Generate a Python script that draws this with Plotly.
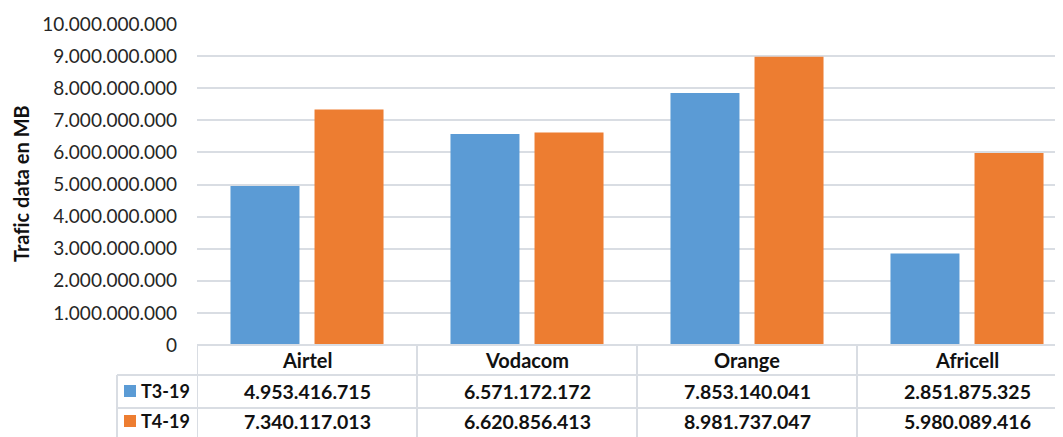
import plotly.graph_objects as go

categories = ["Airtel", "Vodacom", "Orange", "Africell"]
series_names = ["T3-19", "T4-19"]
t3_19 = [4953416715, 6571172172, 7853140041, 2851875325]
t4_19 = [7340117013, 6620856413, 8981737047, 5980089416]
y_ticks = [0, 1e9, 2e9, 3e9, 4e9, 5e9, 6e9, 7e9, 8e9, 9e9, 10e9]
y_title = "Traf\u200cic data en MB"

colors = ["#5b9bd5", "#ed7d31"]
FONT = "Lato"
OFF = 8  # page body margin
W, H = 1063 - OFF, 437 - OFF
# reference pixel geometry
REF_L, REF_T, REF_BOT = 197, 24, 345
L, T = REF_L - OFF, REF_T - OFF
B = H - (REF_BOT - OFF)
PH = H - T - B
PW = W - L


def fmt(v):
    return f"{int(v):,}".replace(",", ".")


def py(p):
    return (REF_BOT - p) / PH


def px(p):
    return (p - REF_L) / PW


fig = go.Figure()
for name, vals, c in zip(series_names, [t3_19, t4_19], colors):
    fig.add_bar(x=list(range(len(categories))), y=vals, name=name,
                marker=dict(color=c, line=dict(width=0)), showlegend=False)

grid = "#d9dde3"
shapes = []
shapes.append(dict(type="line", xref="paper", yref="paper", x0=0, x1=1.2, y0=py(345), y1=py(345),
                   line=dict(color=grid, width=2)))
for yy in [375, 408]:
    shapes.append(dict(type="line", xref="paper", yref="paper", x0=px(117), x1=1.2, y0=py(yy), y1=py(yy),
                       line=dict(color=grid, width=2)))
shapes.append(dict(type="line", xref="paper", yref="paper", x0=px(117), x1=px(117), y0=py(375), y1=py(440),
                   line=dict(color=grid, width=2)))
for i in range(len(categories)):
    xv = i - 0.5
    shapes.append(dict(type="line", xref="x", yref="paper", x0=xv, x1=xv, y0=py(345), y1=py(440),
                       line=dict(color=grid, width=2)))

TXT = "#111"
annotations = []
for i, cat in enumerate(categories):
    annotations.append(dict(x=i, y=py(360), xref="x", yref="paper", text=f"<b>{cat}</b>",
                            showarrow=False, font=dict(size=20, color=TXT), xanchor="center", yanchor="middle"))
row_y = [391, 421]
for r, (name, vals, c) in enumerate(zip(series_names, [t3_19, t4_19], colors)):
    yy = row_y[r]
    for i, v in enumerate(vals):
        annotations.append(dict(x=i, y=py(yy), xref="x", yref="paper", text=f"<b>{fmt(v)}</b>",
                                showarrow=False, font=dict(size=19.5, color=TXT),
                                xanchor="center", yanchor="middle"))
    annotations.append(dict(x=px(139), y=py(yy), xref="paper", yref="paper", text=f"<b>{name}</b>",
                            showarrow=False, font=dict(size=18, color=TXT),
                            xanchor="left", yanchor="middle"))
    shapes.append(dict(type="rect", xref="paper", yref="paper", x0=px(124), x1=px(136),
                       y0=py(yy - 6), y1=py(yy + 6), fillcolor=c, line=dict(width=0)))

annotations.append(dict(x=px(21), y=py(184), xref="paper", yref="paper", text=f"<b>{y_title}</b>",
                        textangle=-90, showarrow=False, font=dict(size=20, color=TXT),
                        xanchor="center", yanchor="middle"))

fig.update_layout(
    width=W, height=H,
    margin=dict(l=L, r=0, t=T, b=B, autoexpand=False),
    paper_bgcolor="white", plot_bgcolor="white",
    font=dict(family=FONT, size=17, color="#333"),
    separators=",.",
    barmode="group", bargap=0.236, bargroupgap=0.179,
    shapes=shapes, annotations=annotations,
    xaxis=dict(range=[-0.5, -0.5 + PW / 220], showticklabels=False, showgrid=False,
               zeroline=False, showline=False, ticks="", automargin=False),
    yaxis=dict(range=[0, 10e9], tickvals=y_ticks, ticktext=[fmt(v) for v in y_ticks],
               showgrid=True, gridcolor=grid, gridwidth=2, zeroline=False, showline=False,
               ticks="", ticklabelstandoff=19, automargin=False,
               tickfont=dict(size=19, color="#262626")),
)
fig.write_html("out.html")
